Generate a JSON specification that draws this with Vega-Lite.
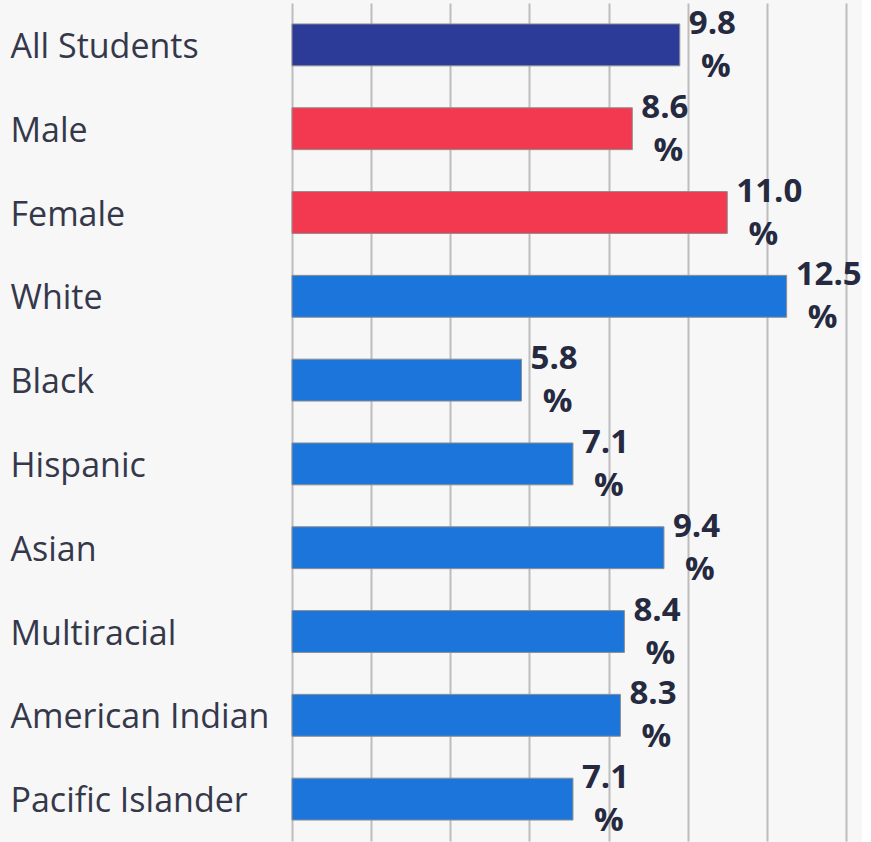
{
  "$schema": "https://vega.github.io/schema/vega-lite/v6.json",
  "width": 554,
  "height": 838,
  "padding": {"left": 10, "top": 3, "right": 0, "bottom": 1},
  "background": "#f7f7f7",
  "config": {"view": {"stroke": null}, "font": "Open Sans"},
  "data": {"values": [
    {"category": "All Students", "value": 9.8, "label": "9.8", "group": "all"},
    {"category": "Male", "value": 8.6, "label": "8.6", "group": "gender"},
    {"category": "Female", "value": 11.0, "label": "11.0", "group": "gender"},
    {"category": "White", "value": 12.5, "label": "12.5", "group": "race"},
    {"category": "Black", "value": 5.8, "label": "5.8", "group": "race"},
    {"category": "Hispanic", "value": 7.1, "label": "7.1", "group": "race"},
    {"category": "Asian", "value": 9.4, "label": "9.4", "group": "race"},
    {"category": "Multiracial", "value": 8.4, "label": "8.4", "group": "race"},
    {"category": "American Indian", "value": 8.3, "label": "8.3", "group": "race"},
    {"category": "Pacific Islander", "value": 7.1, "label": "7.1", "group": "race"}
  ]},
  "encoding": {
    "y": {
      "field": "category", "type": "nominal", "sort": null,
      "scale": {"paddingInner": 0.5, "paddingOuter": 0.25},
      "axis": {"title": null, "ticks": false, "tickSize": 0, "domain": false, "labelAlign": "left", "labelPadding": 282, "labelOffset": 3, "labelFontSize": 34, "labelColor": "#35384a", "labelFont": "Open Sans", "labelLimit": 300}
    },
    "x": {
      "field": "value", "type": "quantitative",
      "scale": {"domain": [0, 14], "nice": false},
      "axis": {"title": null, "labels": false, "ticks": false, "domain": false, "values": [0, 2, 4, 6, 8, 10, 12, 14], "grid": true, "gridColor": "#bdbdbd", "gridWidth": 2}
    }
  },
  "layer": [
    {
      "mark": {"type": "bar", "stroke": "#8f8f8f", "strokeWidth": 1},
      "encoding": {
        "color": {"field": "group", "type": "nominal", "legend": null,
          "scale": {"domain": ["all", "gender", "race"], "range": ["#2c3a98", "#f2394f", "#1c75db"]}}
      }
    },
    {
      "mark": {"type": "text", "align": "left", "baseline": "middle", "dx": 9, "dy": -21, "fontSize": 33, "fontWeight": "bold", "color": "#262a40", "font": "Open Sans"},
      "encoding": {"text": {"field": "label"}}
    },
    {
      "mark": {"type": "text", "align": "center", "baseline": "middle", "dx": 36, "dy": 22, "fontSize": 33, "fontWeight": "bold", "color": "#262a40", "font": "Open Sans", "text": "%"},
      "encoding": {}
    }
  ]
}
